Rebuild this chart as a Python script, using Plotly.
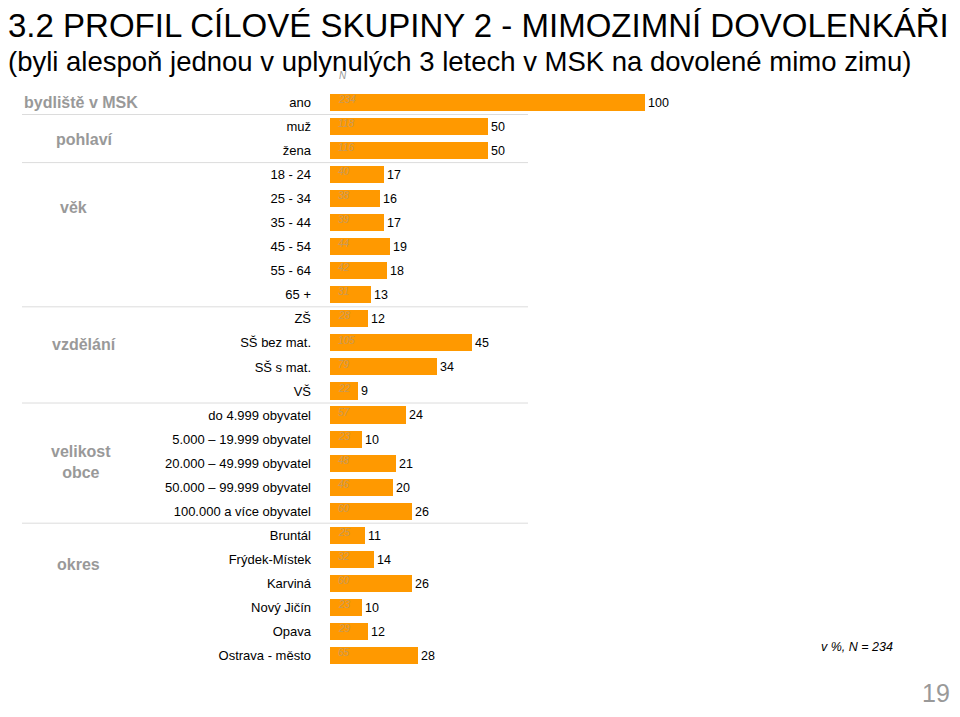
import plotly.graph_objects as go

categories = ["ano", "muž", "žena", "18 - 24", "25 - 34", "35 - 44", "45 - 54", "55 - 64", "65 +",
              "ZŠ", "SŠ bez mat.", "SŠ s mat.", "VŠ",
              "do 4.999 obyvatel", "5.000 – 19.999 obyvatel", "20.000 – 49.999 obyvatel",
              "50.000 – 99.999 obyvatel", "100.000 a více obyvatel",
              "Bruntál", "Frýdek-Místek", "Karviná", "Nový Jičín", "Opava", "Ostrava - město"]
percent = [100, 50, 50, 17, 16, 17, 19, 18, 13, 12, 45, 34, 9, 24, 10, 21, 20, 26, 11, 14, 26, 10, 12, 28]
counts = [234, 118, 116, 40, 38, 39, 44, 42, 31, 28, 105, 79, 22, 57, 23, 48, 46, 60, 25, 32, 60, 23, 29, 65]
groups = ["bydliště v MSK", "pohlaví", "věk", "vzdělání", "velikost<br>obce", "okres"]
group_sizes = [1, 2, 6, 4, 5, 6]

title = "3.2 PROFIL CÍLOVÉ SKUPINY 2 - MIMOZIMNÍ DOVOLENKÁŘI"
subtitle = "(byli alespoň jednou v uplynulých 3 letech v MSK na dovolené mimo zimu)"

# page has an 8px body margin on each side; size the figure so the page does not scroll
OFF = 8
W, H = 960 - 2 * OFF, 717 - 2 * OFF
rows = list(range(len(categories)))
ROW = 24.04
Y0 = 102.5 - OFF
ymin = -Y0 / ROW
ymax = (H - Y0) / ROW

FONT = "Arial, Liberation Sans, sans-serif"


def px(xs):
    return (xs - OFF) / W


def py(ys):
    return 1 - (ys - OFF) / H


fig = go.Figure()
fig.add_trace(go.Bar(
    x=percent, y=rows, orientation="h",
    marker=dict(color="#FF9900", line=dict(width=0)),
    width=0.71,
    text=[str(p) for p in percent], textposition="outside",
    textfont=dict(family=FONT, size=12.5, color="#000000"),
    cliponaxis=False, hoverinfo="skip",
))

annotations = []
for r, c in zip(rows, counts):
    annotations.append(dict(x=2, y=r - 0.12, xref="x", yref="y", text=f"<i>{c}</i>",
                            showarrow=False, xanchor="left", yanchor="middle",
                            font=dict(family=FONT, size=10, color="#c99a5a")))

group_pos = [(81, 0.0), (84, 1.55), (73, 4.35), (84, 10.05), (81, 14.95), (78, 19.2)]
for g, (gx, gy) in zip(groups, group_pos):
    annotations.append(dict(x=px(gx), y=gy, xref="paper", yref="y", text=f"<b>{g}</b>",
                            showarrow=False, xanchor="center", yanchor="middle",
                            font=dict(family=FONT, size=16, color="#999999")))

annotations.append(dict(x=px(6), y=py(25), xref="paper", yref="paper", text=title, showarrow=False,
                        xanchor="left", yanchor="middle",
                        font=dict(family="Liberation Sans, Arial, sans-serif", size=33, color="#000000")))
annotations.append(dict(x=px(6), y=py(62), xref="paper", yref="paper", text=subtitle, showarrow=False,
                        xanchor="left", yanchor="middle",
                        font=dict(family="Liberation Sans, Arial, sans-serif", size=27.5, color="#000000")))
annotations.append(dict(x=px(337), y=py(76), xref="paper", yref="paper", text="<i>N</i>",
                        showarrow=False, xanchor="left", yanchor="middle",
                        font=dict(family=FONT, size=10, color="#999999")))
annotations.append(dict(x=px(857), y=py(647), xref="paper", yref="paper",
                        text="<i>v %, N = 234</i>", showarrow=False, xanchor="center", yanchor="middle",
                        font=dict(family=FONT, size=12.5, color="#000000")))
annotations.append(dict(x=1.0, y=0.0, xref="paper", yref="paper", text="19",
                        showarrow=False, xanchor="right", yanchor="bottom",
                        font=dict(family=FONT, size=25, color="#999999")))

shapes = []
acc = 0
for s in group_sizes[:-1]:
    acc += s
    shapes.append(dict(type="line", xref="paper", yref="y", x0=px(22), x1=px(528),
                       y0=acc - 0.5, y1=acc - 0.5, line=dict(color="#dcdcdc", width=1)))

fig.update_layout(
    width=W, height=H, margin=dict(l=0, r=0, t=0, b=0),
    paper_bgcolor="white", plot_bgcolor="white",
    showlegend=False, bargap=0,
    xaxis=dict(domain=[px(330), 1.0], range=[0, 100 * (W - (330 - OFF)) / 315],
               visible=False, fixedrange=True),
    yaxis=dict(domain=[0, 1], range=[ymax, ymin], tickmode="array", tickvals=rows, ticktext=categories,
               showgrid=False, zeroline=False, showline=False, ticks="", ticklabelstandoff=18,
               tickfont=dict(family=FONT, size=13, color="#000000")),
    annotations=annotations, shapes=shapes,
)

fig.write_html("out.html")
